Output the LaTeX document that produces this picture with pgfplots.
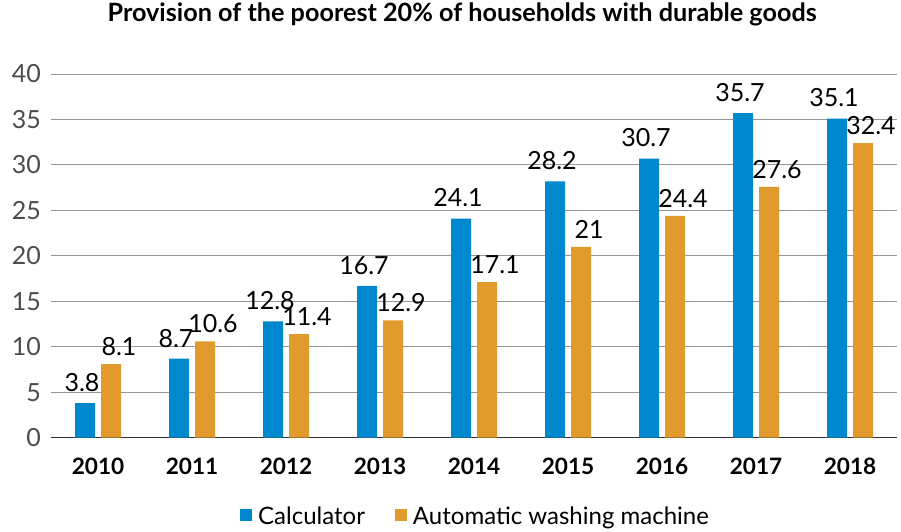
\documentclass[border=0pt]{standalone}
\usepackage{fontspec}
\setmainfont{Lato}
\usepackage{pgfplots}
\pgfplotsset{compat=1.18}
\definecolor{calc}{RGB}{0,136,206}
\definecolor{wash}{RGB}{224,155,44}
\definecolor{gridgray}{RGB}{150,150,150}
\begin{document}
\begin{tikzpicture}
\begin{axis}[
  name=ax,
  scale only axis, width=423pt, height=181.85pt,
  ybar=3pt, bar width=10pt,
  xmin=-0.5, xmax=8.5, ymin=0, ymax=40,
  xtick=data, xticklabels={2010,2011,2012,2013,2014,2015,2016,2017,2018},
  ytick={0,5,...,40},
  axis lines*=left,
  y axis line style={draw=none},
  x axis line style={black!80, line width=0.6pt},
  major tick length=0pt,
  ymajorgrids, grid style={gridgray, line width=0.5pt},
  /pgf/number format/assume math mode=true,
  yticklabel style={font=\fontsize{12.5}{15}\selectfont, text=black!70, xshift=-1.5pt},
  xticklabel style={font=\fontsize{11.3}{13}\selectfont\bfseries, anchor=base, yshift=-18.5pt},
  nodes near coords,
  nodes near coords style={font=\fontsize{12.5}{15}\selectfont, text=black, inner sep=2pt},
  point meta=explicit symbolic,
  title={Provision of the poorest 20\% of households with durable goods},
  title style={font=\fontsize{12.6}{15}\selectfont\bfseries, at={(0.486,1)}, anchor=base, yshift=20.5pt},
  legend style={at={(0.503,-0.218)}, anchor=center, draw=none, font=\fontsize{12}{14}\selectfont, inner sep=0pt},
  legend columns=-1,
  legend image code/.code={\fill[#1] (0pt,-2pt) rectangle (6pt,4pt);},
  /tikz/every odd column/.append style={column sep=1pt},
  /tikz/every even column/.append style={column sep=13pt},
  clip=false,
]
\addplot[fill=calc, draw=none, nodes near coords style={xshift=-1.5pt, yshift=3.5pt}] coordinates {
  (0,3.8) [3.8] (1,8.7) [8.7] (2,12.8) [12.8] (3,16.7) [16.7] (4,24.1) [24.1]
  (5,28.2) [28.2] (6,30.7) [30.7] (7,35.7) [35.7] (8,35.1) [35.1]
};
\addplot[fill=wash, draw=none, nodes near coords style={xshift=4pt, yshift=2pt}] coordinates {
  (0,8.1) [8.1] (1,10.6) [10.6] (2,11.4) [11.4] (3,12.9) [12.9] (4,17.1) [17.1]
  (5,21) [21] (6,24.4) [24.4] (7,27.6) [27.6] (8,32.4) [32.4]
};
\legend{Calculator, Automatic washing machine}
\end{axis}
\pgfresetboundingbox
\path ([xshift=-25.5pt, yshift=-46.65pt]ax.south west) rectangle ([xshift=2pt, yshift=37pt]ax.north east);
\end{tikzpicture}
\end{document}
